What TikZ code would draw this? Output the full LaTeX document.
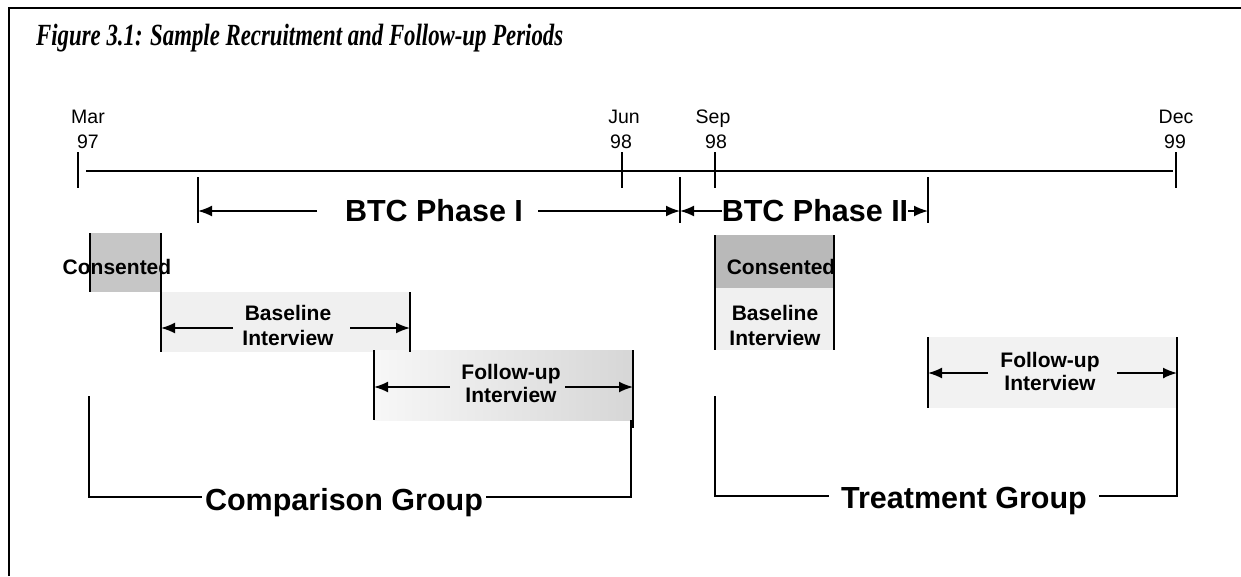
\documentclass[tikz,border=0pt]{standalone}
\usepackage{fontspec}
\setmainfont{Liberation Sans}
\newfontfamily\titlefont{Liberation Serif}
\usetikzlibrary{arrows.meta}
\begin{document}
\begin{tikzpicture}[x=1pt,y=-1pt,
  ln/.style={line width=1.5pt},
  arr/.style={line width=1.7pt,-{Latex[length=14pt,width=11pt]}},
  month/.style={anchor=base,font=\fontsize{19.5}{19.5}\selectfont,inner sep=0pt},
  lbl/.style={anchor=base,font=\fontsize{21}{21}\selectfont\bfseries,inner sep=0pt},
  big/.style={anchor=base,font=\fontsize{30.5}{30.5}\selectfont\bfseries,inner sep=0pt},
  grp/.style={anchor=base,font=\fontsize{30.5}{30.5}\selectfont\bfseries,inner sep=0pt},
  darkfill/.style={fill=gray!45},
  lightfill/.style={fill=gray!12},
]
\useasboundingbox (0,0) rectangle (1241,576);
\fill[white] (0,0) rectangle (1241,576);

% frame
\coordinate (bBL) at (9,576);
\coordinate (bTL) at (9,8);
\coordinate (bTR) at (1241,8);
\draw[line width=2pt] (bBL) -- (bTL) -- (bTR);

% title
\node[anchor=base west,inner sep=0pt,font=\titlefont\bfseries\itshape\fontsize{22.8}{22.8}\selectfont] (title) at (36,45)
  {\scalebox{1}[1.35]{Figure 3.1: Sample Recruitment and Follow-up Periods}};

% timeline
\coordinate (tlL) at (86,171);
\coordinate (tlR) at (1173,171);
\draw[ln] (tlL) -- (tlR);
\foreach \nm/\x in {mar/78,jun/622,sep/715,dec/1176}{
  \coordinate (\nm T) at (\x,152);
  \coordinate (\nm B) at (\x,188);
  \draw[ln] (\nm T) -- (\nm B);
}
\node[month] (marM) at (88,123) {Mar};
\node[month] (marY) at (88,148) {97};
\node[month] (junM) at (624,123) {Jun};
\node[month] (junY) at (621,148) {98};
\node[month] (sepM) at (713,123) {Sep};
\node[month] (sepY) at (716,148) {98};
\node[month] (decM) at (1176,123) {Dec};
\node[month] (decY) at (1175,148) {99};

% BTC phases
\foreach \nm/\x in {pa/198,pb/680,pc/928}{
  \coordinate (\nm T) at (\x,177);
  \coordinate (\nm B) at (\x,223);
  \coordinate (\nm M) at (\x,211);
  \draw[ln] (\nm T) -- (\nm B);
}
\node[big] (ph1) at (434,221.5) {BTC Phase I};
\node[big] (ph2) at (815,221.5) {BTC Phase II};
\coordinate (ph1L) at (317,211);
\coordinate (ph1R) at (538,211);
\draw[arr] (ph1L) -- (paM);
\draw[arr] (ph1R) -- (pbM);
\draw[arr] (ph2.west |- pbM) -- (pbM);
\draw[arr] (ph2.east |- pcM) -- (pcM);

% ---------- Comparison group ----------
\fill[darkfill] (90,233) rectangle (161,292);
\fill[lightfill] (161,292) rectangle (410,352);
\shade[left color=gray!6,right color=gray!32] (374,350) rectangle (633,420);

\coordinate (ccA) at (90,233);
\coordinate (ccB) at (90,292);
\coordinate (ccC) at (161,233);
\coordinate (ccD) at (161,352);
\draw[ln] (ccA) -- (ccB);
\draw[ln] (ccC) -- (ccD);
\node[lbl] (ccons) at (117,274) {Consented};

\coordinate (cbRT) at (410,292);
\coordinate (cbRB) at (410,352);
\draw[ln] (cbRT) -- (cbRB);
\node[lbl] (cbase1) at (288,320) {Baseline};
\node[lbl] (cbase2) at (288,345) {Interview};
\coordinate (cbL) at (161,328);
\coordinate (cbR) at (410,328);
\coordinate (cbLs) at (233,328);
\coordinate (cbRs) at (350,328);
\draw[arr] (cbLs) -- (cbL);
\draw[arr] (cbRs) -- (cbR);

\coordinate (cfLT) at (374,350);
\coordinate (cfLB) at (374,420);
\coordinate (cfRT) at (633,350);
\coordinate (cfRB) at (633,428);
\draw[ln] (cfLT) -- (cfLB);
\draw[ln] (cfRT) -- (cfRB);
\node[lbl] (cfol1) at (511,379) {Follow-up};
\node[lbl] (cfol2) at (511,402) {Interview};
\coordinate (cfL) at (374,387);
\coordinate (cfR) at (633,387);
\coordinate (cfLs) at (450,387);
\coordinate (cfRs) at (565,387);
\draw[arr] (cfLs) -- (cfL);
\draw[arr] (cfRs) -- (cfR);

\node[grp] (cgrp) at (344,510) {Comparison Group};
\coordinate (cgTL) at (89,396);
\coordinate (cgBL) at (89,497);
\coordinate (cgBR) at (631,497);
\coordinate (cgTR) at (631,420);
\draw[ln] (cgTL) -- (cgBL) -- ([xshift=-3pt]cgrp.west |- cgBL);
\draw[ln] ([xshift=3pt]cgrp.east |- cgBR) -- (cgBR) -- (cgTR);

% ---------- Treatment group ----------
\fill[darkfill,fill=gray!55] (715,235) rectangle (834,288);
\fill[lightfill] (715,288) rectangle (834,350);
\fill[fill=gray!10] (928,337) rectangle (1177,408);

\begin{scope}
  \clip (700,230) rectangle (833,295);
  \node[lbl] (tcons) at (781,274) {Consented};
\end{scope}
\coordinate (tcLT) at (715,235);
\coordinate (tcLB) at (715,350);
\coordinate (tcRT) at (834,235);
\coordinate (tcRB) at (834,350);
\draw[ln] (tcLT) -- (tcLB);
\draw[ln] (tcRT) -- (tcRB);
\node[lbl] (tbase1) at (775,320) {Baseline};
\node[lbl] (tbase2) at (775,345) {Interview};

\coordinate (tfLT) at (928,337);
\coordinate (tfLB) at (928,408);
\draw[ln] (tfLT) -- (tfLB);
\node[lbl] (tfol1) at (1050,367) {Follow-up};
\node[lbl] (tfol2) at (1050,390) {Interview};
\coordinate (tfL) at (928,373);
\coordinate (tfR) at (1177,373);
\coordinate (tfLs) at (988,373);
\coordinate (tfRs) at (1117,373);
\draw[arr] (tfLs) -- (tfL);
\draw[arr] (tfRs) -- (tfR);

\node[grp] (tgrp) at (964,508) {Treatment Group};
\coordinate (tgTL) at (715,396);
\coordinate (tgBL) at (715,496);
\coordinate (tgBR) at (1177,496);
\coordinate (tgTR) at (1177,337);
\draw[ln] (tgTL) -- (tgBL) -- ([xshift=-12pt]tgrp.west |- tgBL);
\draw[ln] ([xshift=12pt]tgrp.east |- tgBR) -- (tgBR) -- (tgTR);
\end{tikzpicture}
\end{document}
